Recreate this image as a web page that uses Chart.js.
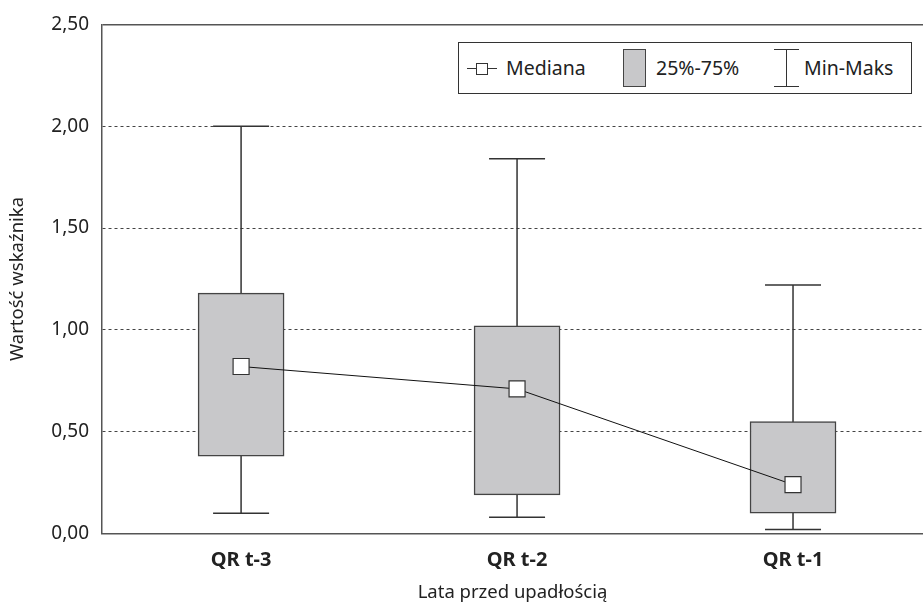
<!DOCTYPE html>
<html lang="pl">
<head>
<meta charset="utf-8">
<script src="https://cdn.jsdelivr.net/npm/chart.js@4/dist/chart.umd.min.js"></script>
<style>
  html, body { margin: 0; padding: 0; background: #fff; }
  #wrap { position: relative; width: 923px; height: 607px; }
  #legend {
    position: absolute; left: 458px; top: 42px; width: 454px; height: 52px;
    border: 1px solid #333; background: #fff; box-sizing: border-box;
    font-family: "Noto Sans", sans-serif; font-size: 19.5px; color: #222;
  }
  #legend .txt { position: absolute; top: 12px; line-height: 26px; }
  #legend .ln { position: absolute; background: #333; }
  #legend .sq { position: absolute; box-sizing: border-box; }
</style>
</head>
<body>
<div id="wrap">
  <canvas id="myChart" width="923" height="607"></canvas>
  <div id="legend">
    <div class="ln" style="left:8px; top:25px; width:30px; height:1px;"></div>
    <div class="sq" style="left:17px; top:20px; width:12px; height:12px; border:1px solid #333; background:#fff;"></div>
    <div class="txt" style="left:47px;">Mediana</div>
    <div class="sq" style="left:164px; top:6px; width:23px; height:38px; border:1.5px solid #444; background:#c8c8ca;"></div>
    <div class="txt" style="left:197px;">25%-75%</div>
    <div class="ln" style="left:327px; top:6px; width:1px; height:38px;"></div>
    <div class="ln" style="left:315px; top:6px; width:25px; height:1px;"></div>
    <div class="ln" style="left:315px; top:43px; width:25px; height:1px;"></div>
    <div class="txt" style="left:345px;">Min-Maks</div>
  </div>
</div>
<script>
const categories = ['QR t-3', 'QR t-2', 'QR t-1'];
const minValues = [0.10, 0.08, 0.02];
const q1Values = [0.38, 0.19, 0.10];
const medianValues = [0.82, 0.71, 0.24];
const q3Values = [1.18, 1.02, 0.55];
const maxValues = [2.00, 1.84, 1.22];
const yTicks = [0, 0.5, 1, 1.5, 2, 2.5];

const font = 'Noto Sans';

// whisker stems with horizontal caps, one segment per category
const whiskerPoints = [];
categories.forEach((c, i) => {
    whiskerPoints.push({x: i, y: minValues[i]});
    whiskerPoints.push({x: i, y: maxValues[i]});
    whiskerPoints.push({x: i + 0.5, y: null});
});

const ctx = document.getElementById('myChart').getContext('2d');
const myChart = new Chart(ctx, {
    type: 'bar',
    data: {
        datasets: [{
            type: 'line',
            label: 'Min-Maks',
            data: whiskerPoints,
            borderColor: '#333',
            borderWidth: 1.5,
            pointStyle: 'line',
            pointRadius: 28,
            pointBorderColor: '#333',
            pointBorderWidth: 1.5,
            spanGaps: false,
            order: 3
        }, {
            label: '25%-75%',
            data: categories.map((c, i) => ({x: i, y: [q1Values[i], q3Values[i]]})),
            backgroundColor: '#c8c8ca',
            borderColor: '#444',
            borderWidth: 1.5,
            borderSkipped: false,
            barThickness: 86,
            order: 2
        }, {
            type: 'line',
            label: 'Mediana',
            data: categories.map((c, i) => ({x: i, y: medianValues[i]})),
            borderColor: '#111',
            borderWidth: 1,
            pointStyle: 'rect',
            pointRadius: 11.3,
            pointBackgroundColor: '#fff',
            pointBorderColor: '#333',
            pointBorderWidth: 1.2,
            order: 1
        }]
    },
    options: {
        responsive: false,
        animation: false,
        // the big cap points would otherwise push the chart area inwards
        layout: { autoPadding: false, padding: { top: 17, right: 0, left: 0, bottom: 0 } },
        plugins: { legend: { display: false }, tooltip: { enabled: false } },
        scales: {
            x: {
                type: 'linear',
                offset: false,
                min: -0.504,
                max: 2.471,
                afterBuildTicks: s => { s.ticks = categories.map((c, i) => ({value: i})); },
                afterFit: s => { s.height = 73.5; },
                grid: { offset: false, drawOnChartArea: false, drawTicks: false },
                border: { color: '#555', width: 1.5 },
                ticks: {
                    padding: 15,
                    color: '#222',
                    font: { family: font, size: 20, weight: 'bold' },
                    callback: v => categories[v]
                },
                title: {
                    display: true,
                    text: 'Lata przed upadłością',
                    color: '#222',
                    font: { family: font, size: 18.5 },
                    padding: { top: 0, bottom: 3 }
                }
            },
            y: {
                min: 0,
                max: 2.5,
                afterBuildTicks: s => { s.ticks = yTicks.map(v => ({value: v})); },
                afterFit: s => { s.width = 102; },
                grid: {
                    drawTicks: false,
                    color: ctx => ctx.tick && ctx.tick.value === 2.5 ? '#555' : '#444',
                    lineWidth: ctx => ctx.tick && ctx.tick.value === 2.5 ? 1.5 : 1
                },
                border: {
                    color: '#555',
                    width: 1.5,
                    dash: ctx => ctx.tick && ctx.tick.value === 2.5 ? [] : [3, 3]
                },
                ticks: {
                    padding: 13,
                    color: '#222',
                    font: { family: font, size: 19 },
                    callback: v => v.toFixed(2).replace('.', ',')
                },
                title: {
                    display: true,
                    text: 'Wartość wskaźnika',
                    color: '#222',
                    font: { family: font, size: 18.5 },
                    padding: { top: 7, bottom: 0 }
                }
            }
        }
    }
});
</script>
</body>
</html>
